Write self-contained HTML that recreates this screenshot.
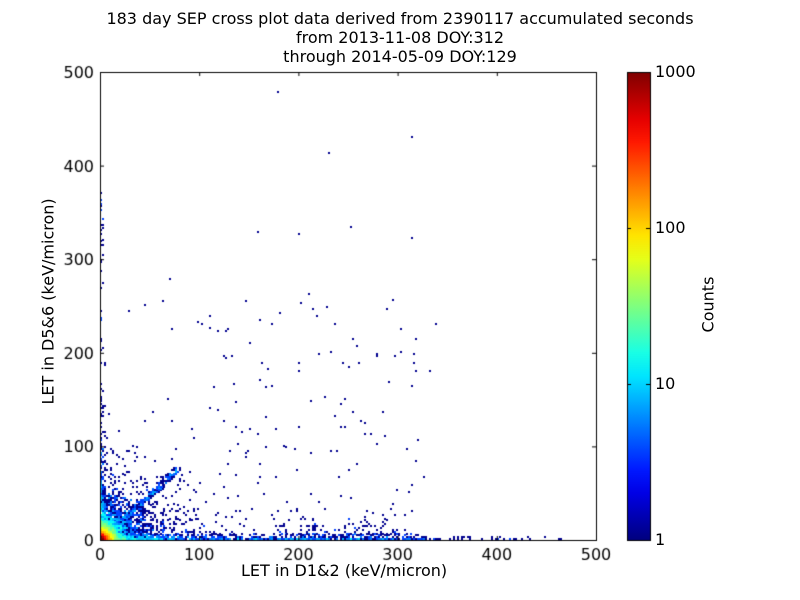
<!DOCTYPE html>
<html><head><meta charset="utf-8"><style>
body{margin:0;background:#fff;width:800px;height:600px;overflow:hidden;font-family:"DejaVu Sans","Liberation Sans",sans-serif}
.t{position:absolute;font-size:16px;color:#000;white-space:nowrap}
</style></head><body>
<div style="position:relative;width:800px;height:600px">
<div class="t" style="left:0;width:800px;text-align:center;top:9px;line-height:19px">183 day SEP cross plot data derived from 2390117 accumulated seconds<br>from 2013-11-08 DOY:312<br>through 2014-05-09 DOY:129</div>
<canvas id="c" width="800" height="600" style="position:absolute;left:0;top:0"></canvas>
<div class="t" style="left:241px;top:561px">LET in D1&amp;2 (keV/micron)</div>
<div class="t" style="left:-52px;top:295px;transform:rotate(-90deg);width:200px;text-align:center">LET in D5&amp;6 (keV/micron)</div>
<div class="t" style="left:658px;top:295px;transform:rotate(-90deg);width:100px;text-align:center">Counts</div>
<div class="t" style="left:655px;top:62px">1000</div>
<div class="t" style="left:655px;top:218px">100</div>
<div class="t" style="left:655px;top:374px">10</div>
<div class="t" style="left:655px;top:530px">1</div>
</div>
<script>
const c=document.getElementById('c').getContext('2d');
const X0=100,X1=596,Y0=72,Y1=540;
function jet(v){v=Math.max(0,Math.min(1,v));
 const r=Math.min(1,Math.max(0,1.5-Math.abs(4*v-3))),g=Math.min(1,Math.max(0,1.5-Math.abs(4*v-2))),b=Math.min(1,Math.max(0,1.5-Math.abs(4*v-1)));
 return `rgb(${r*255|0},${g*255|0},${b*255|0})`;}
let a=987654321;function R(){a|=0;a=a+0x6D2B79F5|0;let t=Math.imul(a^a>>>15,1|a);t=t+Math.imul(t^t>>>7,61|t)^t;return((t^t>>>14)>>>0)/4294967296;}
function E(s){return -Math.log(1-R())*s;}
const bins={};
function add(x,y,n){if(x<0||y<0||x>=500||y>=500)return;const k=(Math.floor(x/2))+','+(Math.floor(y/2));bins[k]=(bins[k]||0)+(n||1);}
// core cluster
for(let i=0;i<10000;i++){const r=E(4.5);const th=R()*1.5708;add(r*Math.cos(th),r*Math.sin(th));}
for(let i=0;i<2500;i++){const r=E(14);const th=R()*1.5708;add(r*Math.cos(th),r*Math.sin(th));}
// vertical strip
for(let i=0;i<350;i++){add(E(2),E(40));}
for(let i=0;i<50;i++){add(R()*3,R()*380);}
// horizontal band
for(let i=0;i<700;i++){add(R()<0.5?E(60):R()*330,E(2.5));}
for(let i=0;i<120;i++){add(R()*470,R()*3);}
// spread region
for(let i=0;i<650;i++){add(E(35),E(25));}
// diagonal
for(let i=0;i<220;i++){const t=15+Math.pow(R(),0.8)*65;add(t+R()*6-3,t*0.95+R()*6-3);}
// scattered
for(let i=0;i<90;i++){add(110+R()*230,R()*260);}
for(let i=0;i<60;i++){add(R()*320,Math.pow(R(),1.5)*350);}
for(let i=0;i<220;i++){add(180+R()*120,E(8));}
add(178,478);add(314,430);add(230,413);add(314,323);
for(const k in bins){const [bx,by]=k.split(',').map(Number);const n=bins[k];
 const v=Math.min(1,Math.log10(n)/3);
 c.fillStyle=n==1?'#00008f':jet(v*0.9+0.1);
 const px=Math.round(X0+bx*1.984),py=Math.round(Y1-(by+1)*1.872);c.fillRect(px,py,2,2);}
// axes
c.strokeStyle='#000';c.lineWidth=1;c.strokeRect(X0+.5,Y0+.5,X1-X0,Y1-Y0);
c.fillStyle='#000';c.font='16px "DejaVu Sans",sans-serif';
for(let i=0;i<=5;i++){const x=X0+i*99.2,y=Y1-i*93.6;
 c.beginPath();c.moveTo(x+.5,Y1);c.lineTo(x+.5,Y1-4);c.moveTo(x+.5,Y0);c.lineTo(x+.5,Y0+4);
 c.moveTo(X0,y+.5);c.lineTo(X0+4,y+.5);c.moveTo(X1,y+.5);c.lineTo(X1-4,y+.5);c.stroke();
 c.textAlign='center';c.fillText(String(i*100),x,Y1+20);
 c.textAlign='right';c.fillText(String(i*100),X0-6,y+6);}
// colorbar
const g=c.createLinearGradient(0,540,0,72);
for(let i=0;i<=20;i++)g.addColorStop(i/20,jet(i/20));
c.fillStyle=g;c.fillRect(627,72,23,468);c.strokeRect(627.5,72.5,23,468);
for(let i=0;i<4;i++){const y=540-i*156;c.beginPath();c.moveTo(650,y+.5);c.lineTo(646,y+.5);c.moveTo(627,y+.5);c.lineTo(631,y+.5);c.stroke();}
</script>
</body></html>
